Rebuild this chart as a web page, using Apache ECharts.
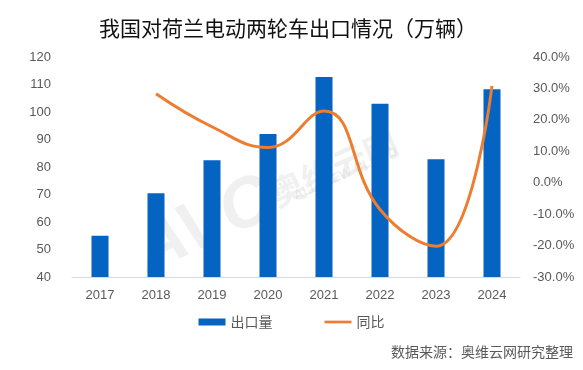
<!DOCTYPE html>
<html><head><meta charset="utf-8">
<script src="https://cdn.jsdelivr.net/npm/echarts@6/dist/echarts.min.js"></script>
<style>html,body{margin:0;padding:0;background:#fff}#c{width:583px;height:370px}</style>
</head><body><div id="c"></div>
<script>
const years = ['2017','2018','2019','2020','2021','2022','2023','2024'];
const exportVolume = [55, 70.5, 82.5, 92, 112.7, 103, 82.8, 108.3];
const yoyGrowth = [null, 28.3, 17.8, 11.2, 22.8, -8.5, -20.2, 30.8];
const titleText = '我国对荷兰电动两轮车出口情况（万辆）';
const sourceText = '数据来源：奥维云网研究整理';
const legendNames = ['出口量', '同比'];

const cjk = '"Noto Sans CJK SC", "Noto Sans", sans-serif';
const num = '"Liberation Sans", Arial, "Noto Sans CJK SC", sans-serif';
const chart = echarts.init(document.getElementById('c'), null, {renderer: 'canvas'});
chart.setOption({
  animation: false,
  backgroundColor: '#fff',
  title: {
    text: titleText, left: 94, top: 13,
    textStyle: {fontFamily: cjk, fontSize: 21, fontWeight: 'normal', color: '#111'}
  },
  graphic: [
    {type: 'text', right: 10, top: 345, style: {text: sourceText, font: '14px ' + cjk, fill: '#595959'}},
    {type: 'text', left: 125, top: 165, rotation: 0.42, style: {text: 'AVC', font: 'italic bold 70px ' + num, fill: 'rgba(205,205,205,0.3)'}, z: 0},
    {type: 'text', left: 265, top: 125, rotation: 0.42, style: {text: '奥维云网', font: 'bold 34px ' + cjk, fill: 'rgba(205,205,205,0.3)'}, z: 0},
    {type: 'text', left: 292, top: 145, rotation: 0.42, style: {text: 'ALL VIEW CLOUD', font: 'bold 13px ' + num, fill: 'rgba(205,205,205,0.3)'}, z: 0}
  ],
  legend: {
    data: [
      {name: legendNames[0], icon: 'rect'},
      {name: legendNames[1], icon: 'path://M0,0 L30,0 L30,3 L0,3 Z'}
    ],
    top: 310, left: 'center', itemWidth: 27, itemHeight: 7, itemGap: 52,
    textStyle: {fontFamily: cjk, fontSize: 14, color: '#595959'}
  },
  grid: {left: 72, right: 63, top: 57, bottom: 93},
  xAxis: {
    type: 'category', data: years,
    axisLine: {onZero: false, lineStyle: {color: '#d9d9d9'}},
    axisTick: {show: false},
    axisLabel: {fontFamily: num, fontSize: 13, color: '#595959', margin: 12}
  },
  yAxis: [
    {type: 'value', min: 40, max: 120, interval: 10,
      splitLine: {show: false}, axisLine: {show: false}, axisTick: {show: false},
      axisLabel: {fontFamily: num, fontSize: 13, color: '#595959', margin: 21}},
    {type: 'value', min: -30, max: 40, interval: 10,
      splitLine: {show: false}, axisLine: {show: false}, axisTick: {show: false},
      axisLabel: {fontFamily: num, fontSize: 13, color: '#595959', margin: 13,
        formatter: v => v.toFixed(1) + '%'}}
  ],
  series: [
    {name: legendNames[0], type: 'bar', data: exportVolume, barWidth: 17,
      itemStyle: {color: '#0563C1'}, z: 2},
    {name: legendNames[1], type: 'line', yAxisIndex: 1, data: yoyGrowth, smooth: 0.45,
      showSymbol: false, symbol: 'none', connectNulls: false,
      lineStyle: {color: '#ED7D31', width: 3}, itemStyle: {color: '#ED7D31'}, z: 3}
  ]
});
</script></body></html>
